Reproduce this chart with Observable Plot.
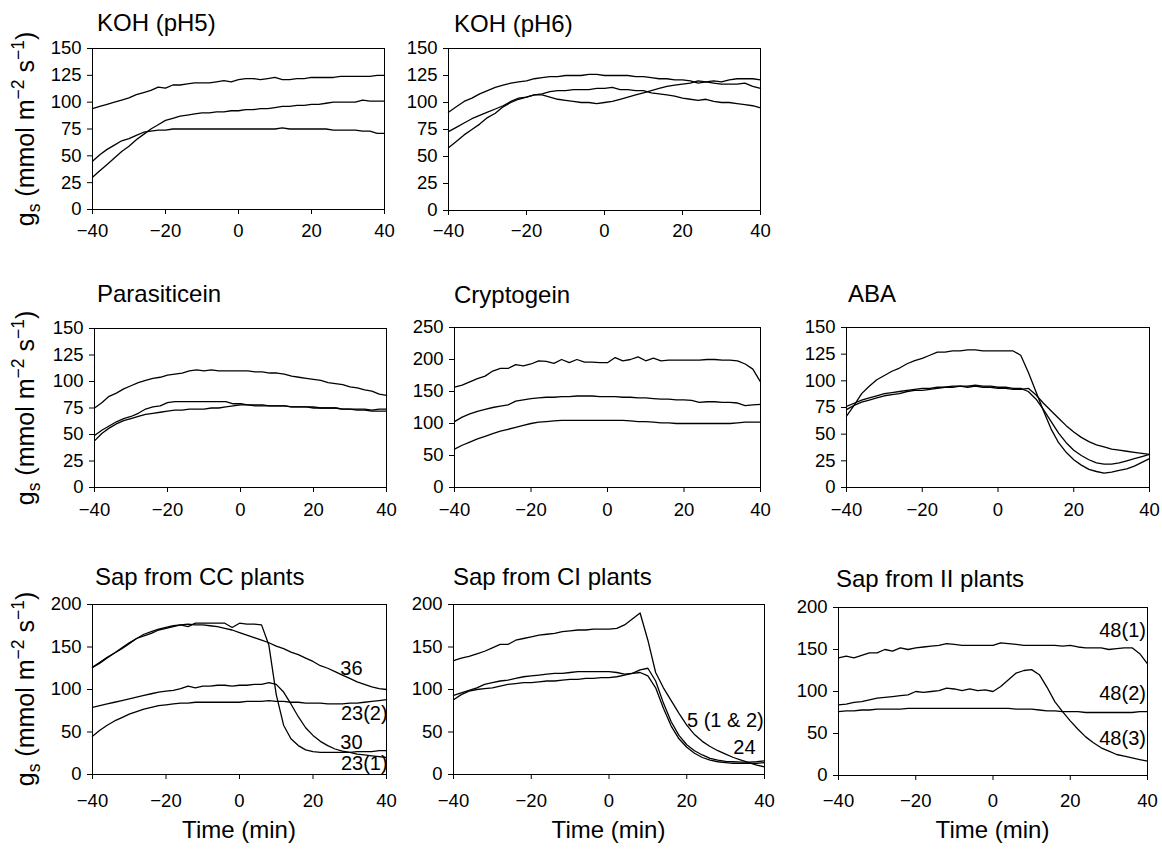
<!DOCTYPE html>
<html><head><meta charset="utf-8">
<script src="https://cdn.jsdelivr.net/npm/d3@7"></script>
<script src="https://cdn.jsdelivr.net/npm/@observablehq/plot@0.6"></script>
<style>
body{margin:0;background:#fff;}
#wrap{position:relative;width:1162px;height:849px;overflow:hidden;font-family:"Liberation Sans",Arial,sans-serif;color:#000;background:#fff;}
.title{position:absolute;font-size:24px;line-height:24px;white-space:nowrap;}
.ylab{position:absolute;font-size:25px;line-height:25px;white-space:nowrap;transform:translate(-50%,-50%) rotate(-90deg);}
.ylab sub,.ylab sup{font-size:70%;line-height:0;}
.xlab{position:absolute;font-size:24px;line-height:24px;white-space:nowrap;transform:translateX(-50%);}
</style></head>
<body><div id="wrap"></div>
<script>
// time axis (min)
const t = [-40,-38,-36,-34,-32,-30,-28,-26,-24,-22,-20,-18,-16,-14,-12,-10,-8,-6,-4,-2,0,2,4,6,8,10,12,14,16,18,20,22,24,26,28,30,32,34,36,38,40];
const xTicks = [-40,-20,0,20,40];

// KOH (pH5)
const koh5_1 = [94,96,98,100,102,104,107,109,111,114, 113,116,116,117,118,118,118,119,120,119, 121,122,122,121,122,123,121,121,122,122, 123,123,123,123,124,124,124,124,124,125, 125];
const koh5_2 = [30,36,42,48,54,59,65,70,75,79, 83,85,87,88,89,90,90,91,91,92, 92,93,93,94,94,95,96,96,97,97, 98,98,99,100,100,100,100,102,101,101, 101];
const koh5_3 = [45,51,56,60,64,66,69,72,73,74, 74,75,75,75,75,75,75,75,75,75, 75,75,75,75,75,75,76,75,75,75, 75,75,75,74,74,74,74,73,73,71, 71];
// KOH (pH6)
const koh6_1 = [91,96,101,104,108,111,114,116,118,119, 120,122,123,124,124,125,125,125,126,126, 125,125,125,125,124,124,123,122,122,121, 121,120,118,119,118,117,117,117,118,115, 113];
const koh6_2 = [58,64,70,75,80,86,90,96,100,103, 105,107,107,105,103,102,101,100,100,99, 100,101,103,105,107,109,111,113,115,116, 117,118,120,119,120,119,121,122,122,122, 121];
const koh6_3 = [73,77,81,85,88,91,94,97,101,104, 105,107,108,110,111,111,112,112,112,113, 113,114,112,112,111,111,109,108,107,106, 104,103,102,103,101,100,100,99,98,97, 95];
// Parasiticein
const par_1 = [75,80,86,89,93,96,99,101,103,104, 106,107,108,110,111,110,111,110,110,110, 110,110,109,109,108,108,107,105,104,103, 102,101,99,98,97,95,94,92,91,88, 87];
const par_2 = [49,54,58,62,65,67,70,74,76,77, 80,81,81,81,81,81,81,81,81,79, 79,78,78,78,77,77,77,76,76,76, 76,75,75,75,74,74,73,73,72,72, 72];
const par_3 = [44,51,56,60,63,65,67,69,70,71, 72,73,73,74,74,74,75,75,76,77, 78,78,77,77,77,77,77,76,76,76, 75,75,75,75,74,74,74,74,73,74, 74];
// Cryptogein
const cry_1 = [157,160,165,170,174,182,186,186,192,190, 193,198,197,194,200,195,200,196,196,195, 195,203,198,200,204,198,202,198,199,199, 199,199,199,200,200,199,199,198,193,185, 165];
const cry_2 = [103,110,115,119,122,125,127,129,135,137, 139,140,141,141,142,142,143,143,143,142, 142,142,141,141,140,140,139,138,138,137, 137,136,133,134,134,133,133,132,128,129, 130];
const cry_3 = [60,66,71,76,80,84,88,91,94,97, 100,102,103,104,105,105,105,105,105,105, 105,105,105,104,103,103,102,101,101,100, 100,100,100,100,100,100,100,101,102,102, 102];
// ABA
const aba_1 = [67,77,88,95,101,105,109,112,116,119, 121,124,127,127,128,128,129,129,128,128, 128,128,128,124,108,90,72,55,42,33, 26,21,17,15,13.5,14.5,16,17.5,20,23.5, 27];
const aba_2 = [76,79,82,84,86,88,89,90,91,92, 93,93,94,94,95,95,95,96,95,95, 94,94,93,93,90,83,73,62,51,42, 35,30,26,23,22,22,23,25,27,29, 31];
const aba_3 = [73,77,80,82,84,86,87,88,90,91, 91,92,93,94,94,95,94,95,94,94, 93,93,92,92,93,87,79,72,65,58, 52,47,43,40,38,36,35,34,33,32, 31];
// Sap from CC plants
const cc_30 = [126,131,137,143,148,154,160,163,166,170, 172,174,176,174,178,178,178,178,178,173, 178,177,177,176,152,94,58,42,34,29, 27,26,26,26,26,26,27,27,27,28, 28];
const cc_36 = [126,132,138,143,149,155,160,165,168,171, 173,175,176,177,176,176,175,174,172,170, 167,164,161,158,155,151,148,144,141,137, 133,128,125,121,117,113,109,106,103,101, 100];
const cc_23a = [79,81,83,85,87,89,91,93,95,97, 98,99,101,104,102,104,104,105,105,104, 105,105,106,106,108,106,97,83,68,55, 46,39,34,30,27.5,26,24,23,22,21, 20];
const cc_23b = [45,52,58,63,67,71,74,77,79,81, 82,83,84,84,85,85,85,85,85,85, 85,86,86,86,87,86,86,85,85,84, 84,84,83,83,83,84,84,85,86,87, 88];
// Sap from CI plants
const ci_1 = [134,137,139,142,145,149,153,153,158,160, 162,164,165,166,168,169,170,170,171,171, 171,172,176,183,190,158,120,102,87,72, 58,47,39,33,28,24,20,17,14,11, 9];
const ci_2 = [93,96,99,102,106,108,110,111,113,115, 116,117,118,119,119,120,121,121,121,121, 121,120,118,119,120,116,102,78,57,42, 32,25,20,17,15,14,13,13,13,13, 14];
const ci_3 = [88,94,98,100,101,102,104,106,107,108, 108,109,110,110,111,112,112,113,113,114, 114,115,117,119,123,125,110,84,62,46, 35,28,23,19,17,15.5,15,14.5,14.5,15, 16];
// Sap from II plants
const ii_1 = [140,142,140,143,146,146,150,148,152,150, 152,153,154,155,157,156,155,155,155,155, 155,158,157,156,155,155,155,155,155,154, 155,153,152,152,152,150,151,152,152,145, 133];
const ii_2 = [84,85,87,88,90,92,93,94,95,96, 100,99,100,101,104,103,101,103,101,102, 100,106,114,122,125,126,120,105,88,76, 65,55,46,39,33,29,25,23,21,19, 17];
const ii_3 = [76,77,77,78,78,79,79,79,79,80, 80,80,80,80,80,80,80,80,80,80, 80,80,80,79,79,79,78,77,77,76, 76,76,75,75,75,75,75,75,75,76, 76];

// curve labels (text, x in min, y in g_s units)
const ccLabels = ["36", "23(2)", "30", "23(1)"];
const ccLabelX = [33.5, 40.3, 33.5, 40.3];
const ccLabelY = [125, 72, 37, 13];
const ciLabels = ["5 (1 & 2)", "24"];
const ciLabelX = [39.8, 37.7];
const ciLabelY = [63, 32];
const iiLabels = ["48(1)", "48(2)", "48(3)"];
const iiLabelX = [39.6, 39.6, 39.6];
const iiLabelY = [172, 98, 44];

const y150 = [0,25,50,75,100,125,150];
const y250 = [0,50,100,150,200,250];
const y200 = [0,50,100,150,200];

const panels = [
  {title:"KOH (pH5)", series:[koh5_1,koh5_2,koh5_3], ymax:150, yticks:y150, fx:92, fy:48, fw:292, fh:161, xpad:9, tx:97, tb:31},
  {title:"KOH (pH6)", series:[koh6_1,koh6_2,koh6_3], ymax:150, yticks:y150, fx:448, fy:48, fw:312, fh:162, xpad:8, tx:454, tb:32},
  {title:"Parasiticein", series:[par_1,par_2,par_3], ymax:150, yticks:y150, fx:94, fy:328, fw:292, fh:159, xpad:10, tx:97, tb:302},
  {title:"Cryptogein", series:[cry_1,cry_2,cry_3], ymax:250, yticks:y250, fx:454, fy:327, fw:306, fh:160, xpad:10, tx:454, tb:303},
  {title:"ABA", series:[aba_1,aba_2,aba_3], ymax:150, yticks:y150, fx:846, fy:327, fw:303, fh:160, xpad:10, tx:848, tb:302},
  {title:"Sap from CC plants", series:[cc_30,cc_36,cc_23a,cc_23b], ymax:200, yticks:y200, fx:92, fy:604, fw:294, fh:170, xpad:14, tx:95, tb:585,
   labels:ccLabels, lx:ccLabelX, ly:ccLabelY, xlab:true},
  {title:"Sap from CI plants", series:[ci_1,ci_2,ci_3], ymax:200, yticks:y200, fx:453, fy:604, fw:311, fh:170, xpad:14, tx:453, tb:585,
   labels:ciLabels, lx:ciLabelX, ly:ciLabelY, xlab:true},
  {title:"Sap from II plants", series:[ii_1,ii_2,ii_3], ymax:200, yticks:y200, fx:838, fy:607, fw:309, fh:168, xpad:13, tx:836, tb:587,
   labels:iiLabels, lx:iiLabelX, ly:iiLabelY, xlab:true}
];

const wrap = document.getElementById("wrap");
const FONT = '"Liberation Sans", Arial, sans-serif';

function addDiv(cls, html, left, top) {
  const d = document.createElement("div");
  d.className = cls; d.innerHTML = html;
  d.style.left = left + "px"; d.style.top = top + "px";
  wrap.appendChild(d);
  return d;
}

panels.forEach(p => {
  const ml = 60, mr = 16, mt = 14, mb = 44;
  const data = p.series.flatMap((s, k) => t.map((x, i) => ({t: x, v: s[i], k})));
  const notes = (p.labels || []).map((s, i) => ({s, x: p.lx[i], y: p.ly[i]}));
  const svg = Plot.plot({
    width: p.fw + ml + mr,
    height: p.fh + mt + mb,
    marginLeft: ml, marginRight: mr, marginTop: mt, marginBottom: mb,
    style: {fontFamily: FONT, fontSize: "18.5px", color: "#000", background: "transparent", overflow: "visible"},
    x: {domain: [-40, 40], ticks: xTicks, tickSize: 5, tickPadding: p.xpad, label: null},
    y: {domain: [0, p.ymax], ticks: p.yticks, tickSize: 5, tickPadding: 6, label: null},
    marks: [
      Plot.frame({stroke: "#000", strokeWidth: 1}),
      Plot.line(data, {x: "t", y: "v", z: "k", stroke: "#000", strokeWidth: 1.3}),
      Plot.text(notes, {x: "x", y: "y", text: "s", textAnchor: "end", fontSize: 20, fill: "#000"})
    ]
  });
  svg.style.position = "absolute";
  svg.style.left = (p.fx - ml) + "px";
  svg.style.top = (p.fy - mt) + "px";
  svg.style.maxWidth = "none";
  wrap.appendChild(svg);
  addDiv("title", p.title, p.tx, p.tb - 20);
  if (p.xlab) addDiv("xlab", "Time (min)", p.fx + p.fw / 2, 838 - 20);
});

// y-axis labels on first column
const yl = "g<sub>s</sub> (mmol m<sup>\u22122</sup> s<sup>\u22121</sup>)";
[128.5, 407.5, 689].forEach(cy => addDiv("ylab", yl, 25, cy));
</script>
</body></html>
